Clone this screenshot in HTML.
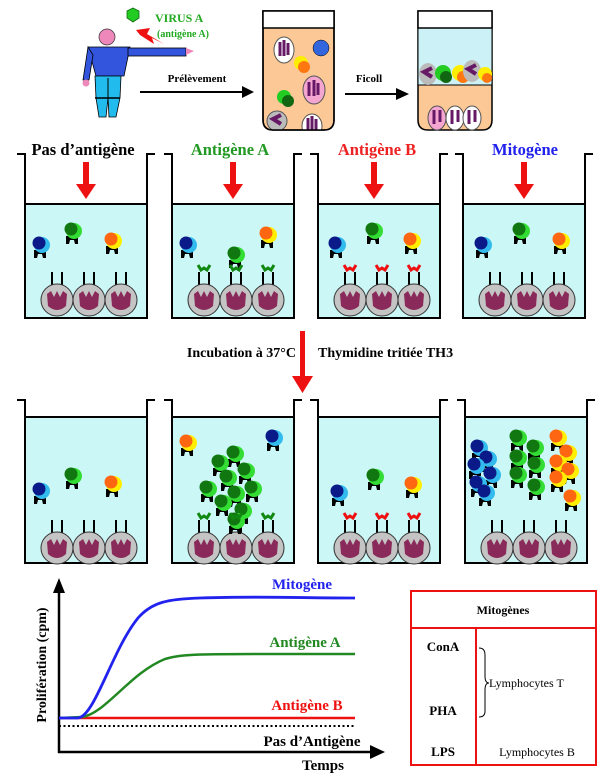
<!DOCTYPE html>
<html><head><meta charset="utf-8"><style>
html,body{margin:0;padding:0;background:#fff}
svg{display:block}
text{font-family:"Liberation Serif",serif;font-weight:bold}
</style></head><body>
<svg width="604" height="784" viewBox="0 0 604 784" xmlns="http://www.w3.org/2000/svg">
<defs>
<g id="foot"><path d="M-6,6 L6,6 L6,14 L3,14 L2,10 L-2,10 L-3,14 L-6,14 Z" fill="#000"/></g>
<g id="Lg"><use href="#foot"/><circle cx="2" cy="1" r="8" fill="#33dd33"/><circle cx="-1" cy="-1" r="6.5" fill="#117711"/></g>
<g id="Lb"><use href="#foot"/><circle cx="2" cy="1" r="8" fill="#33bbee"/><circle cx="-1" cy="-1" r="6.5" fill="#0a1a88"/></g>
<g id="Lo"><use href="#foot"/><circle cx="2" cy="1" r="8" fill="#ffee00"/><circle cx="-1" cy="-1" r="6.5" fill="#ff6611"/></g>
<g id="M"><line x1="-5" y1="-28" x2="-5" y2="-14" stroke="#000" stroke-width="2"/><line x1="5" y1="-28" x2="5" y2="-14" stroke="#000" stroke-width="2"/>
<circle r="16" fill="#c4c4c4" stroke="#333" stroke-width="1"/>
<path d="M-10,-6 L-6,-9 L-3,-3 L0,-9 L3,-3 L6,-9 L10,-6 L9,6 Q0,14 -9,6 Z" fill="#8a2a5a"/></g>
<g id="agG"><path d="M-6,-3 L-3,2 L0,0 L3,2 L6,-3" fill="none" stroke="#118811" stroke-width="3"/></g>
<g id="agR"><path d="M-6,-3 L-3,2 L0,0 L3,2 L6,-3" fill="none" stroke="#ee1111" stroke-width="3"/></g>
<g id="well1"><path d="M-8,0 H0 V164 H122 V0 H130" fill="none" stroke="#000" stroke-width="2"/>
<rect x="0" y="50" width="122" height="114" fill="#ccf7f7" stroke="#000" stroke-width="2"/></g>
<g id="well2"><path d="M-8,0 H0 V163 H122 V0 H130" fill="none" stroke="#000" stroke-width="2"/>
<rect x="0" y="17" width="122" height="146" fill="#ccf7f7" stroke="#000" stroke-width="2"/></g>
<g id="macs"><use href="#M" x="32" y="0"/><use href="#M" x="64" y="0"/><use href="#M" x="96" y="0"/></g>
<g id="rarrow"><rect x="-3" y="0" width="6" height="24" fill="#ee1111"/><path d="M-10,22 L10,22 L0,37 Z" fill="#ee1111"/></g>
<clipPath id="t1"><path d="M263,11 H334 V120 Q334,130 324,130 H273 Q263,130 263,120 Z"/></clipPath>
</defs>

<!-- person -->
<circle cx="107" cy="37" r="8" fill="#ee88bb" stroke="#333" stroke-width="0.7"/>
<path d="M88,47 L130,47 L124,76 L96,76 Z" fill="#3355dd" stroke="#000" stroke-width="0.8"/>
<path d="M88,47 L83,80 L89,80 L93,55 Z" fill="#3355dd" stroke="#000" stroke-width="0.8"/>
<circle cx="86" cy="83" r="3.5" fill="#ee88bb"/>
<rect x="128" y="48" width="58" height="8" fill="#3355dd" stroke="#000" stroke-width="0.8"/>
<path d="M186,48 L194,51 L186,55 Z" fill="#ee88bb"/>
<path d="M95,76 L121,76 L120,98 L116,117 L109,117 L108,98 L106,117 L99,117 L96,98 Z" fill="#22bbee" stroke="#000" stroke-width="0.8"/>
<line x1="95" y1="98" x2="120" y2="98" stroke="#000" stroke-width="1.5"/>
<line x1="108" y1="78" x2="108" y2="98" stroke="#000" stroke-width="1"/>
<polygon points="133,8 139,11 139,18 133,22 127,18 127,11" fill="#22cc22" stroke="#116611" stroke-width="0.8"/>
<path d="M136,30 L150,28 L147,34 L164,44 L152,38 L154,44 L140,35 Z" fill="#ee1111"/>
<text x="155" y="22" font-size="12" fill="#22aa22">VIRUS A</text>
<text x="157" y="37" font-size="10" fill="#22aa22">(antigène A)</text>
<text x="197" y="82" font-size="11" text-anchor="middle" fill="#000">Prélèvement</text>
<line x1="140" y1="92" x2="244" y2="92" stroke="#000" stroke-width="2"/><path d="M242,86 L254,92 L242,98 Z" fill="#000"/>
<text x="369" y="82" font-size="11" text-anchor="middle" fill="#000">Ficoll</text>
<line x1="345" y1="94" x2="398" y2="94" stroke="#000" stroke-width="2"/><path d="M396,88 L409,94 L396,100 Z" fill="#000"/>

<!-- tube 1 -->
<path d="M263,11 H334 V120 Q334,130 324,130 H273 Q263,130 263,120 Z" fill="#fbc896" stroke="#000" stroke-width="1.5"/>
<g clip-path="url(#t1)">
<ellipse cx="284" cy="50" rx="10" ry="13" fill="#fff" stroke="#555"/><path d="M280,42 v14 M284,40 v16 M288,43 v12" stroke="#661a66" stroke-width="3"/>
<circle cx="321" cy="48" r="8" fill="#3366dd" stroke="#000" stroke-width="0.5"/>
<circle cx="301" cy="63" r="7" fill="#ffee00"/><circle cx="304" cy="67" r="6" fill="#ff7711"/>
<ellipse cx="314" cy="90" rx="11" ry="14" fill="#f4a6d0" stroke="#555"/><path d="M309,82 v14 M314,80 v16 M318,83 v12" stroke="#661a66" stroke-width="3"/>
<circle cx="284" cy="97" r="7" fill="#22cc22"/><circle cx="288" cy="101" r="6" fill="#116611"/>
<ellipse cx="277" cy="121" rx="10" ry="10" fill="#bbb" stroke="#555"/><path d="M281,115 L273,119 L281,124" stroke="#661a66" stroke-width="4" fill="none"/>
<ellipse cx="312" cy="126" rx="10" ry="12" fill="#fff" stroke="#555"/><path d="M308,118 v14 M312,116 v16 M316,119 v12" stroke="#661a66" stroke-width="3"/>
</g>
<path d="M263,11 H334 V120 Q334,130 324,130 H273 Q263,130 263,120 Z" fill="none" stroke="#000" stroke-width="1.5"/>
<rect x="263" y="11" width="71" height="17" fill="#fff" stroke="#000" stroke-width="1.5"/>
<!-- tube 2 -->
<path d="M418,11 H492 V120 Q492,130 482,130 H428 Q418,130 418,120 Z" fill="#fbc896" stroke="#000" stroke-width="1.5"/>
<rect x="418" y="28" width="74" height="57" fill="#ccf2f7" stroke="#000" stroke-width="1"/>
<rect x="418" y="11" width="74" height="17" fill="#fff" stroke="#000" stroke-width="1.5"/>
<ellipse cx="428" cy="74" rx="9" ry="11" fill="#bbb"/><path d="M432,68 L424,72 L432,77" stroke="#661a66" stroke-width="4" fill="none"/>
<circle cx="443" cy="73" r="8" fill="#22cc22"/><circle cx="446" cy="77" r="6" fill="#116611"/>
<circle cx="460" cy="73" r="8" fill="#ffee00"/><circle cx="463" cy="77" r="6" fill="#ff7711"/>
<ellipse cx="472" cy="71" rx="9" ry="11" fill="#bbb"/><path d="M476,65 L468,69 L476,74" stroke="#661a66" stroke-width="4" fill="none"/>
<circle cx="485" cy="74" r="7" fill="#ffee00"/><circle cx="487" cy="78" r="5" fill="#ff7711"/>
<ellipse cx="437" cy="118" rx="9" ry="12" fill="#f4a6d0" stroke="#555"/><ellipse cx="455" cy="118" rx="9" ry="12" fill="#fff" stroke="#555"/><ellipse cx="472" cy="118" rx="9" ry="12" fill="#fff" stroke="#555"/>
<path d="M434,110 v14 M440,110 v12 M452,110 v14 M458,110 v12 M469,110 v14 M475,110 v12" stroke="#661a66" stroke-width="3"/>

<!-- labels row 1 -->
<text x="83" y="155" font-size="16.5" text-anchor="middle" fill="#000">Pas d’antigène</text>
<text x="230" y="155" font-size="16.5" text-anchor="middle" fill="#229922">Antigène A</text>
<text x="377" y="155" font-size="16.5" text-anchor="middle" fill="#ee2222">Antigène B</text>
<text x="525" y="155" font-size="16.5" text-anchor="middle" fill="#2222ee">Mitogène</text>

<!-- row 1 wells -->
<g transform="translate(25,154)"><use href="#well1"/><use href="#rarrow" x="61" y="8"/><use href="#macs" y="146"/>
<use href="#Lb" x="15" y="90"/><use href="#Lg" x="47" y="76"/><use href="#Lo" x="87" y="86"/></g>
<g transform="translate(172,154)"><use href="#well1"/><use href="#rarrow" x="61" y="8"/><use href="#macs" y="146"/>
<use href="#Lb" x="15" y="90"/><use href="#Lg" x="63" y="100"/><use href="#Lo" x="95" y="80"/>
<use href="#agG" x="32" y="114"/><use href="#agG" x="64" y="114"/><use href="#agG" x="96" y="114"/></g>
<g transform="translate(318,154)"><use href="#well1"/><use href="#rarrow" x="56" y="8"/><use href="#macs" y="146"/>
<use href="#Lb" x="18" y="90"/><use href="#Lg" x="55" y="76"/><use href="#Lo" x="93" y="86"/>
<use href="#agR" x="32" y="114"/><use href="#agR" x="64" y="114"/><use href="#agR" x="96" y="114"/></g>
<g transform="translate(463,154)"><use href="#well1"/><use href="#rarrow" x="61" y="8"/><use href="#macs" y="146"/>
<use href="#Lb" x="19" y="90"/><use href="#Lg" x="57" y="76"/><use href="#Lo" x="97" y="86"/></g>

<!-- incubation -->
<text x="296" y="357" font-size="14" text-anchor="end" fill="#000">Incubation à 37°C</text>
<text x="318" y="357" font-size="14" fill="#000">Thymidine tritiée TH3</text>
<rect x="300" y="331" width="5" height="47" fill="#ee1111"/><path d="M292,376 L313,376 L302.5,393 Z" fill="#ee1111"/>

<!-- row 2 wells -->
<g transform="translate(25,400)"><use href="#well2"/><use href="#macs" y="148"/>
<use href="#Lb" x="15" y="90"/><use href="#Lg" x="47" y="75"/><use href="#Lo" x="87" y="83"/></g>
<g transform="translate(172,400)"><use href="#well2"/><use href="#macs" y="148"/>
<use href="#Lo" x="15" y="42"/><use href="#Lb" x="101" y="37"/>
<use href="#Lg" x="62" y="53"/><use href="#Lg" x="47" y="62"/><use href="#Lg" x="73" y="70"/><use href="#Lg" x="55" y="77"/><use href="#Lg" x="35" y="88"/><use href="#Lg" x="80" y="88"/><use href="#Lg" x="63" y="93"/><use href="#Lg" x="50" y="102"/><use href="#Lg" x="70" y="110"/><use href="#Lg" x="63" y="120"/>
<use href="#agG" x="32" y="116"/><use href="#agG" x="64" y="116"/><use href="#agG" x="96" y="116"/></g>
<g transform="translate(318,400)"><use href="#well2"/><use href="#macs" y="148"/>
<use href="#Lb" x="20" y="92"/><use href="#Lg" x="56" y="76"/><use href="#Lo" x="94" y="84"/>
<use href="#agR" x="32" y="116"/><use href="#agR" x="64" y="116"/><use href="#agR" x="96" y="116"/></g>
<g transform="translate(465,400)"><use href="#well2"/><use href="#macs" y="148"/>
<use href="#Lb" x="13" y="47"/><use href="#Lb" x="22" y="58"/><use href="#Lb" x="10" y="65"/><use href="#Lb" x="26" y="74"/><use href="#Lb" x="12" y="83"/><use href="#Lb" x="20" y="92"/>
<use href="#Lg" x="52" y="37"/><use href="#Lg" x="69" y="47"/><use href="#Lg" x="52" y="57"/><use href="#Lg" x="70" y="64"/><use href="#Lg" x="52" y="74"/><use href="#Lg" x="70" y="86"/>
<use href="#Lo" x="92" y="37"/><use href="#Lo" x="102" y="52"/><use href="#Lo" x="92" y="62"/><use href="#Lo" x="104" y="70"/><use href="#Lo" x="92" y="78"/><use href="#Lo" x="106" y="97"/></g>

<!-- chart -->
<line x1="59" y1="590" x2="59" y2="753" stroke="#000" stroke-width="2.5"/><path d="M53,593 L59,578 L65,593 Z" fill="#000"/>
<line x1="58" y1="752" x2="372" y2="752" stroke="#000" stroke-width="2.5"/><path d="M370,745 L385,752 L370,759 Z" fill="#000"/>
<path d="M59,726 L356,726" stroke="#000" stroke-width="2" stroke-dasharray="2,2.5"/>
<path d="M59,718 L355,718" stroke="#ee1111" stroke-width="2.5"/>
<path d="M59,718 L82,717 C105,714 130,673 165,659 C185,653 205,654 355,654" fill="none" stroke="#228822" stroke-width="2.5"/>
<path d="M59,718 L78,718 C95,716 112,650 138,618 C152,602 168,599 200,598 C260,596 300,598 355,598" fill="none" stroke="#2222ee" stroke-width="2.8"/>
<text x="302" y="589" font-size="15" text-anchor="middle" fill="#2222ee">Mitogène</text>
<text x="305" y="647" font-size="15" text-anchor="middle" fill="#228822">Antigène A</text>
<text x="307" y="710" font-size="15" text-anchor="middle" fill="#ee1111">Antigène B</text>
<text x="323" y="770" font-size="15" text-anchor="middle" fill="#000">Temps</text>
<text x="312" y="746" font-size="15" text-anchor="middle" fill="#000">Pas d’Antigène</text>
<text transform="translate(46,665) rotate(-90)" font-size="14" text-anchor="middle" fill="#000">Prolifération (cpm)</text>

<!-- table -->
<rect x="411" y="591" width="185" height="174" fill="none" stroke="#ee1111" stroke-width="2"/>
<line x1="411" y1="628" x2="596" y2="628" stroke="#ee1111" stroke-width="2"/>
<line x1="476" y1="628" x2="476" y2="765" stroke="#ee1111" stroke-width="2"/>
<text x="503" y="614" font-size="12" text-anchor="middle" fill="#000">Mitogènes</text>
<text x="443" y="651" font-size="13" text-anchor="middle" fill="#000">ConA</text>
<text x="443" y="715" font-size="13" text-anchor="middle" fill="#000">PHA</text>
<text x="443" y="756" font-size="13" text-anchor="middle" fill="#000">LPS</text>
<path d="M479,648 Q485,648 485,655 L485,676 Q485,683 489,683 Q485,683 485,690 L485,711 Q485,717 479,717" fill="none" stroke="#000" stroke-width="1"/>
<text x="489" y="687" font-size="12" style="font-weight:normal" fill="#000">Lymphocytes T</text>
<text x="537" y="756" font-size="12" text-anchor="middle" style="font-weight:normal" fill="#000">Lymphocytes B</text>
</svg>
</body></html>
